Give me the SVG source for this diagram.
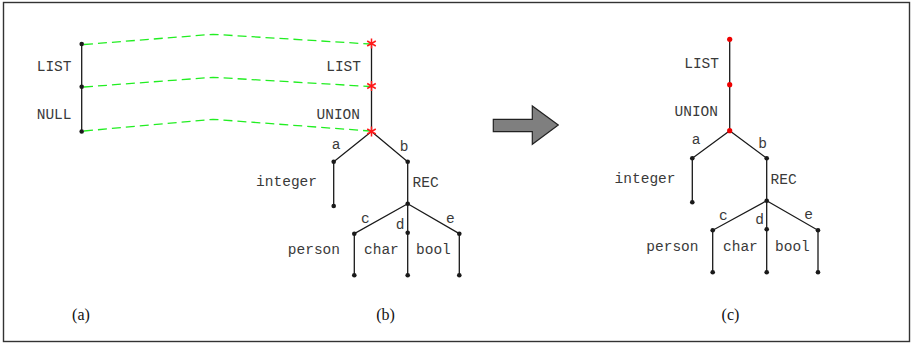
<svg xmlns="http://www.w3.org/2000/svg" width="913" height="345" viewBox="0 0 913 345">
  <style>
    .edge { stroke: #1a1a1a; stroke-width: 1.3; fill: none; }
    .match { stroke: #22ee22; stroke-width: 1.3; fill: none; stroke-dasharray: 9 5; }
    .dot { fill: #1a1a1a; }
    .rdot { fill: #ee0000; }
    .star { stroke: #ff1a1a; stroke-width: 1.5; fill: none; }
    .lbl { font-family: "Liberation Mono", "Courier New", monospace; font-size: 14.5px; fill: #3a3a3a; }
    .cap { font-family: "Liberation Serif", "Times New Roman", serif; font-size: 16px; fill: #111; text-anchor: middle; }
    .end { text-anchor: end; }
    .mid { text-anchor: middle; }
  </style>
  <defs>
    <circle id="pt" r="2.3" class="dot"/>
    <circle id="rpt" r="2.6" class="rdot"/>
    <path id="ast" class="star" d="M0,-5V5M-4.3,-2.5L4.3,2.5M-4.3,2.5L4.3,-2.5"/>
  </defs>

  <!-- outer frame -->
  <rect x="3.5" y="2.5" width="906" height="339" fill="#fff" stroke="#333" stroke-width="1.4"/>

  <!-- connectors -->
  <g id="connectors">
    <!-- tree (a) spine -->
    <path class="edge" d="M81.7,44V131.5"/>
    <!-- tree (b) -->
    <path class="edge" d="M371.5,43.5V131.5"/>
    <path class="edge" d="M371.5,131.5L333.7,161.7V206M371.5,131.5L407.7,161.7V275.3"/>
    <path class="edge" d="M407.7,203.7L354.3,233.7V275.3M407.7,203.7L459.3,233.7V275.3"/>
    <!-- tree (c) -->
    <path class="edge" d="M729.7,39.3V130.7"/>
    <path class="edge" d="M729.7,130.7L692.3,158.3V202.3M729.7,130.7L766.7,158.3V272.3"/>
    <path class="edge" d="M766.7,200.7L712.7,230.3V272.3M766.7,200.7L818,230.3V272.3"/>
    <!-- correspondences between (a) and (b) -->
    <path class="match" d="M84,44.5L213,34.3L370,44"/>
    <path class="match" d="M84,87L213,77.3L370,86.5"/>
    <path class="match" d="M84,131L213,119.3L370,131"/>
  </g>

  <!-- tree (a) -->
  <g id="a-top"><use href="#pt" x="81.7" y="44"/></g>
  <g id="a-mid"><use href="#pt" x="81.7" y="86.7"/><text class="lbl end" x="71.5" y="71">LIST</text></g>
  <g id="a-bot"><use href="#pt" x="81.7" y="131.5"/><text class="lbl end" x="71.5" y="119">NULL</text></g>

  <!-- tree (b) -->
  <g id="b-top"><use href="#ast" x="371.5" y="43.5"/></g>
  <g id="b-mid"><use href="#ast" x="371.5" y="86"/><text class="lbl end" x="361" y="71">LIST</text></g>
  <g id="b-root"><use href="#ast" x="371.5" y="131.5"/><text class="lbl end" x="360" y="119">UNION</text></g>
  <g id="b-a"><use href="#pt" x="333.7" y="161.7"/><text class="lbl mid" x="336" y="149">a</text></g>
  <g id="b-int"><use href="#pt" x="333.7" y="206"/><text class="lbl end" x="317" y="186">integer</text></g>
  <g id="b-b"><use href="#pt" x="407.7" y="161.7"/><text class="lbl mid" x="404.2" y="150.7">b</text></g>
  <g id="b-rec"><use href="#pt" x="407.7" y="203.7"/><text class="lbl" x="412.5" y="186.7">REC</text></g>
  <g id="b-c"><use href="#pt" x="354.3" y="233.7"/><text class="lbl mid" x="365.3" y="223.3">c</text></g>
  <g id="b-d"><use href="#pt" x="407.7" y="232.7"/><text class="lbl mid" x="400" y="229">d</text></g>
  <g id="b-e"><use href="#pt" x="459.3" y="233.7"/><text class="lbl mid" x="450.3" y="222.7">e</text></g>
  <g id="b-person"><use href="#pt" x="354.3" y="275.3"/><text class="lbl end" x="340" y="253.5">person</text></g>
  <g id="b-char"><use href="#pt" x="407.7" y="275.3"/><text class="lbl" x="364" y="253.5">char</text></g>
  <g id="b-bool"><use href="#pt" x="459.3" y="275.3"/><text class="lbl" x="416" y="253.5">bool</text></g>

  <!-- transformation arrow -->
  <g id="arrow">
    <polygon points="493.3,119.3 532.3,119.3 532.3,106 558.3,125 532.3,144.3 532.3,131.7 493.3,131.7" fill="#7f7f7f" stroke="#222" stroke-width="1.2"/>
  </g>

  <!-- tree (c) -->
  <g id="c-top"><use href="#rpt" x="729.7" y="39.3"/></g>
  <g id="c-mid"><use href="#rpt" x="729.7" y="84.7"/><text class="lbl end" x="719" y="68.3">LIST</text></g>
  <g id="c-root"><use href="#rpt" x="729.7" y="130.7"/><text class="lbl end" x="718" y="116.3">UNION</text></g>
  <g id="c-a"><use href="#pt" x="692.3" y="158.3"/><text class="lbl mid" x="696" y="144">a</text></g>
  <g id="c-int"><use href="#pt" x="692.3" y="202.3"/><text class="lbl end" x="675.5" y="183">integer</text></g>
  <g id="c-b"><use href="#pt" x="766.7" y="158.3"/><text class="lbl mid" x="762.5" y="147.7">b</text></g>
  <g id="c-rec"><use href="#pt" x="766.7" y="200.7"/><text class="lbl" x="770.5" y="184.3">REC</text></g>
  <g id="c-c"><use href="#pt" x="712.7" y="230.3"/><text class="lbl mid" x="723.3" y="220">c</text></g>
  <g id="c-d"><use href="#pt" x="766.7" y="229.3"/><text class="lbl mid" x="759.5" y="224">d</text></g>
  <g id="c-e"><use href="#pt" x="818" y="230.3"/><text class="lbl mid" x="808.7" y="219">e</text></g>
  <g id="c-person"><use href="#pt" x="712.7" y="272.3"/><text class="lbl end" x="698.5" y="251">person</text></g>
  <g id="c-char"><use href="#pt" x="766.7" y="272.3"/><text class="lbl" x="723" y="251">char</text></g>
  <g id="c-bool"><use href="#pt" x="818" y="272.3"/><text class="lbl" x="775" y="251">bool</text></g>

  <!-- captions -->
  <text class="cap" x="81" y="319.5">(a)</text>
  <text class="cap" x="385.5" y="319.5">(b)</text>
  <text class="cap" x="730.5" y="319.5">(c)</text>
</svg>
